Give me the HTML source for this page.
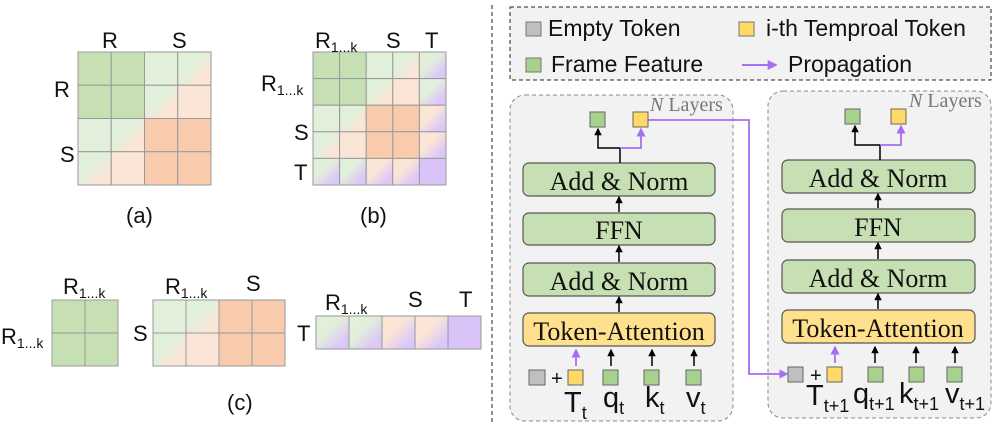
<!DOCTYPE html>
<html><head><meta charset="utf-8"><style>
html,body{margin:0;padding:0;background:#fff;}
svg{display:block;}
.s{font-family:"Liberation Sans",sans-serif;fill:#111;}
.r{font-family:"Liberation Serif",serif;fill:#111;}
</style></head><body>
<svg id="sv" width="996" height="426" viewBox="0 0 996 426" xmlns="http://www.w3.org/2000/svg">
<defs>
<linearGradient id="gp" x1="0" y1="0" x2="1" y2="1"><stop offset="0.45" stop-color="#e2efda"/><stop offset="0.75" stop-color="#fbe5d6"/></linearGradient>
<linearGradient id="gv" x1="0" y1="0" x2="1" y2="1"><stop offset="0.4" stop-color="#e2efda"/><stop offset="0.8" stop-color="#dcc8f8"/></linearGradient>
<linearGradient id="pv" x1="0" y1="0" x2="1" y2="1"><stop offset="0.4" stop-color="#fbe5d6"/><stop offset="0.8" stop-color="#dcc8f8"/></linearGradient>
<marker id="ak" markerWidth="5" markerHeight="5" refX="5" refY="3" orient="auto" viewBox="0 0 6 6" markerUnits="strokeWidth"><path d="M0,0 L6,3 L0,6 Z" fill="#000"/></marker>
<marker id="ap" markerWidth="5" markerHeight="5" refX="5" refY="3" orient="auto" viewBox="0 0 6 6" markerUnits="strokeWidth"><path d="M0,0 L6,3 L0,6 Z" fill="#a66ef5"/></marker>
</defs>
<g id="cells"></g>
<g class="s" font-size="22">
<text x="102" y="48">R</text>
<text x="172" y="48">S</text>
<text x="54" y="97">R</text>
<text x="60" y="162">S</text>
<text x="126" y="223">(a)</text>
<text x="315" y="48">R<tspan font-size="14" dy="4">1...k</tspan></text>
<text x="386" y="48">S</text>
<text x="425" y="48">T</text>
<text x="261" y="91">R<tspan font-size="14" dy="4">1...k</tspan></text>
<text x="294" y="140">S</text>
<text x="294" y="180">T</text>
<text x="360" y="223">(b)</text>
<text x="63" y="294">R<tspan font-size="14" dy="4">1...k</tspan></text>
<text x="1" y="344">R<tspan font-size="14" dy="4">1...k</tspan></text>
<text x="165" y="294">R<tspan font-size="14" dy="4">1...k</tspan></text>
<text x="246" y="291">S</text>
<text x="133" y="341">S</text>
<text x="325" y="310">R<tspan font-size="14" dy="4">1...k</tspan></text>
<text x="408" y="307">S</text>
<text x="459" y="307">T</text>
<text x="297" y="341">T</text>
<text x="227" y="410">(c)</text>
</g>
<line x1="492" y1="5" x2="492" y2="422" stroke="#222" stroke-width="1" stroke-dasharray="4,3"/>
<!-- legend -->
<rect x="510" y="7" width="481" height="73" fill="#f2f2f2" stroke="#222" stroke-dasharray="4,3"/>
<rect x="526" y="22" width="15" height="14" fill="#bfbfbf" stroke="#777"/>
<rect x="739" y="22" width="15" height="14" fill="#ffd966" stroke="#777"/>
<rect x="526" y="58" width="15" height="14" fill="#a9d18e" stroke="#777"/>
<g class="s" font-size="23">
<text x="548" y="36">Empty Token</text>
<text x="766" y="36">i-th Temproal Token</text>
<text x="551" y="72">Frame Feature</text>
<text x="788" y="72">Propagation</text>
</g>
<line x1="742" y1="65" x2="776" y2="65" stroke="#a66ef5" stroke-width="2" marker-end="url(#ap)"/>
<!-- panels -->
<rect x="510" y="95" width="223" height="326" rx="15" fill="#f2f2f2" stroke="#888" stroke-dasharray="4,3"/>
<rect x="768" y="91" width="223" height="327" rx="15" fill="#f2f2f2" stroke="#888" stroke-dasharray="4,3"/>
<text class="r" x="650" y="111" font-size="20" style="fill:#777"><tspan font-style="italic">N</tspan> Layers</text>
<text class="r" x="909" y="107" font-size="20" style="fill:#777"><tspan font-style="italic">N</tspan> Layers</text>
<g stroke="#555" stroke-width="1.2">
<rect x="523" y="163" width="192" height="33" rx="6" fill="#c6e0b4"/>
<rect x="523" y="213" width="192" height="32" rx="6" fill="#c6e0b4"/>
<rect x="523" y="263" width="192" height="33" rx="6" fill="#c6e0b4"/>
<rect x="523" y="313" width="192" height="33" rx="6" fill="#ffe08c"/>
<rect x="782" y="160" width="193" height="33" rx="6" fill="#c6e0b4"/>
<rect x="782" y="209" width="193" height="33" rx="6" fill="#c6e0b4"/>
<rect x="782" y="260" width="193" height="33" rx="6" fill="#c6e0b4"/>
<rect x="782" y="310" width="193" height="33" rx="6" fill="#ffe08c"/>
</g>
<g class="r" font-size="26" text-anchor="middle">
<text x="619" y="190">Add &amp; Norm</text><text x="619" y="239">FFN</text>
<text x="619" y="290">Add &amp; Norm</text><text x="619" y="340">Token-Attention</text>
<text x="878" y="187">Add &amp; Norm</text><text x="878" y="236">FFN</text>
<text x="878" y="287">Add &amp; Norm</text><text x="878" y="337">Token-Attention</text>
</g>
<g stroke="#000" stroke-width="1.5" fill="none">
<line x1="619" y1="212" x2="619" y2="197" marker-end="url(#ak)"/>
<line x1="619" y1="262" x2="619" y2="246" marker-end="url(#ak)"/>
<line x1="619" y1="312" x2="619" y2="297" marker-end="url(#ak)"/>
<line x1="878" y1="208" x2="878" y2="194" marker-end="url(#ak)"/>
<line x1="878" y1="259" x2="878" y2="243" marker-end="url(#ak)"/>
<line x1="878" y1="309" x2="878" y2="294" marker-end="url(#ak)"/>
<polyline points="620,163 620,148 598,148 598,129" marker-end="url(#ak)"/>
<polyline points="880,160 880,145 855,145 855,126" marker-end="url(#ak)"/>
<line x1="611" y1="366" x2="611" y2="350" marker-end="url(#ak)"/>
<line x1="652" y1="366" x2="652" y2="350" marker-end="url(#ak)"/>
<line x1="694" y1="366" x2="694" y2="350" marker-end="url(#ak)"/>
<line x1="875" y1="363" x2="875" y2="347" marker-end="url(#ak)"/>
<line x1="916" y1="363" x2="916" y2="347" marker-end="url(#ak)"/>
<line x1="955" y1="363" x2="955" y2="347" marker-end="url(#ak)"/>
</g>
<g stroke="#a66ef5" stroke-width="1.8" fill="none">
<polyline points="620,148 641,148 641,129" marker-end="url(#ap)"/>
<polyline points="880,145 901,145 901,126" marker-end="url(#ap)"/>
<line x1="576" y1="366" x2="576" y2="350" marker-end="url(#ap)"/>
<line x1="835" y1="363" x2="835" y2="347" marker-end="url(#ap)"/>
<polyline points="648,120 749,120 749,374 787,374" marker-end="url(#ap)"/>
</g>
<g stroke="#666" stroke-width="1">
<rect x="590" y="112" width="15" height="15" fill="#a9d18e"/>
<rect x="633" y="112" width="15" height="15" fill="#ffd966"/>
<rect x="845" y="109" width="15" height="15" fill="#a9d18e"/>
<rect x="891" y="109" width="15" height="15" fill="#ffd966"/>
<rect x="529" y="370" width="16" height="15" fill="#bfbfbf"/>
<rect x="568" y="370" width="15" height="15" fill="#ffd966"/>
<rect x="603" y="370" width="15" height="15" fill="#a9d18e"/>
<rect x="644" y="370" width="15" height="15" fill="#a9d18e"/>
<rect x="686" y="370" width="15" height="15" fill="#a9d18e"/>
<rect x="788" y="367" width="15" height="15" fill="#bfbfbf"/>
<rect x="827" y="367" width="15" height="15" fill="#ffd966"/>
<rect x="868" y="367" width="15" height="15" fill="#a9d18e"/>
<rect x="909" y="367" width="15" height="15" fill="#a9d18e"/>
<rect x="947" y="367" width="15" height="15" fill="#a9d18e"/>
</g>
<text class="s" x="551" y="385" font-size="20">+</text>
<text class="s" x="810" y="382" font-size="20">+</text>
<g class="s" font-size="29">
<text x="564" y="412">T<tspan font-size="18" dy="7">t</tspan></text>
<text x="603" y="407">q<tspan font-size="18" dy="7">t</tspan></text>
<text x="645" y="407">k<tspan font-size="18" dy="7">t</tspan></text>
<text x="686" y="407">v<tspan font-size="18" dy="7">t</tspan></text>
<text x="806" y="405">T<tspan font-size="18" dy="7">t+1</tspan></text>
<text x="853" y="403">q<tspan font-size="18" dy="7">t+1</tspan></text>
<text x="899" y="403">k<tspan font-size="18" dy="7">t+1</tspan></text>
<text x="945" y="403">v<tspan font-size="18" dy="7">t+1</tspan></text>
</g>
</svg>
<script>
var C={G:"#c6e0b4",g:"#e2efda",P:"#fbe5d6",O:"#f8cbad",V:"#d9c3f8",x:"url(#gp)",y:"url(#gv)",z:"url(#pv)"};
var NS="http://www.w3.org/2000/svg",g=document.getElementById("cells");
function grid(x0,y0,w,h,rows){rows.forEach(function(r,i){r.split("").forEach(function(c,j){var e=document.createElementNS(NS,"rect");
e.setAttribute("x",x0+j*w);e.setAttribute("y",y0+i*h);e.setAttribute("width",w);e.setAttribute("height",h);
e.setAttribute("fill",C[c]);e.setAttribute("stroke","#999");e.setAttribute("stroke-width","1");g.appendChild(e);});});}
grid(78,52,33.25,33.25,["GGgx","GGxP","gxOO","xPOO"]);
grid(313,52,26.6,26.6,["GGgxy","GGxPy","gxOOz","xPOOz","yyzzV"]);
grid(52,300,33,33,["GG","GG"]);
grid(153,300,33,33,["gxOO","xPOO"]);
grid(316,316,33,33,["yyzzV"]);
</script>
</body></html>
